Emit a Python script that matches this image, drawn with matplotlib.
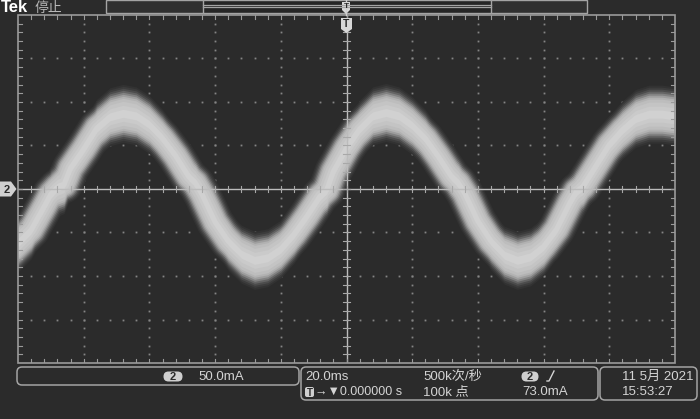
import matplotlib.pyplot as plt
from matplotlib.patches import FancyBboxPatch, Rectangle, Polygon

plt.rcParams['font.family'] = ['Liberation Sans', 'Noto Sans CJK SC', 'DejaVu Sans']

# waveform centre: 20 ms/div, 50 mA/div
t_ms = [-100, -96, -92, -90, -88, -86, -84, -80, -76, -72, -68, -64, -60, -56,
        -52, -48, -46, -44, -40, -36, -32, -28, -24, -20, -16, -12, -8, -6, -4,
        0, 4, 8, 12, 16, 20, 24, 28, 32, 34, 36, 40, 44, 48, 52, 56, 60, 64,
        68, 70, 72, 76, 80, 84, 88, 92, 96, 100]
i_ma = [-62, -47, -20, -6, 2, 5, 24, 46, 70, 83, 87, 84, 74, 58,
        38, 14, 7, -6, -38, -60, -75, -82, -79, -69, -52, -31, -8, -1, 20,
        47, 69, 84, 88, 84, 73, 58, 37, 14, 7, -5, -37, -60, -76, -82, -78, -66, -46,
        -16, -3, 3, 27, 51, 68, 81, 86, 86, 84]

ch_label = '2'
ch_scale = '50.0mA'
time_scale = '20.0ms'
trig_pos = '→▼0.000000 s'
sample_rate = '500k次/秒'
record_len = '100k 点'
trig_level = '73.0mA'
date_txt = '11 5月 2021'
clock_txt = '15:53:27'

BG = '#2b2b2b'
GRID = '#858585'
EDGE = '#a4a4a4'
TXT = '#d4d4d4'
MA_PER_PX = 50 / 43.5

fig = plt.figure(figsize=(7, 4.19), dpi=100, facecolor=BG)
ax = fig.add_axes([18/700, 56/419, 657/700, 348/419])
ax.set_facecolor(BG)
ax.set_xlim(-100, 100)
ax.set_ylim(-200, 200)
for s in ax.spines.values():
    s.set_visible(False)
ax.set_xticks([])
ax.set_yticks([])

# graticule dots
for gx in [-80, -60, -40, -20, 20, 40, 60, 80]:
    ys = [v for v in range(-190, 200, 10)]
    ax.plot([gx]*len(ys), ys, ls='none', marker='s', ms=1.3, color=GRID, mew=0, zorder=1)
for gy in [-150, -100, -50, 50, 100, 150]:
    xs = [v for v in range(-96, 100, 4)]
    ax.plot(xs, [gy]*len(xs), ls='none', marker='s', ms=1.3, color=GRID, mew=0, zorder=1)

# trace: persistence band, vertical spread + stroke so slopes keep some width
glow = [(29, '#323232'), (27, '#3c3c3c'), (25, '#4c4c4c'), (23, '#646464'),
        (21, '#828282'), (19, '#9e9e9e'), (17, '#b2b2b2'), (15, '#bdbdbd'),
        (12, '#c4c4c4'), (8, '#cacaca'), (4, '#d1d1d1')]
for hpx, c in glow:
    h = hpx * MA_PER_PX
    lo = [v - h for v in i_ma]
    hi = [v + h for v in i_ma]
    ax.fill_between(t_ms, lo, hi, color=c, lw=0, zorder=2)
    ax.plot(t_ms, i_ma, color=c, lw=hpx * 1.3 * 0.72, solid_joinstyle='round',
            solid_capstyle='projecting', zorder=2)

# centre cross and border with minor ticks
ax.axhline(0, color='#bcbcbc', lw=1, zorder=4)
ax.axvline(0, color='#bcbcbc', lw=1, zorder=4)
ax.add_patch(Rectangle((-100, -200), 200, 400, fill=False, ec='#9a9a9a', lw=1.2,
                       zorder=5, clip_on=False))
for v in range(-96, 100, 4):
    ax.plot([v, v], [-3.5, 3.5], color='#a8a8a8', lw=0.8, zorder=4)
    ax.plot([v, v], [200, 195], color='#9a9a9a', lw=0.8, zorder=4)
    ax.plot([v, v], [-200, -195], color='#9a9a9a', lw=0.8, zorder=4)
for v in range(-190, 200, 10):
    ax.plot([-1.1, 1.1], [v, v], color='#a8a8a8', lw=0.8, zorder=4)
    ax.plot([-100, -98.8], [v, v], color='#9a9a9a', lw=0.8, zorder=4)
    ax.plot([100, 98.8], [v, v], color='#9a9a9a', lw=0.8, zorder=4)

# screen furniture in pixel coordinates
ov = fig.add_axes([0, 0, 1, 1], facecolor='none')
ov.set_xlim(0, 700)
ov.set_ylim(419, 0)
ov.axis('off')

ov.text(1, 8, 'Tek', color='white', fontsize=12, fontweight='bold', va='center', ha='left')
ov.text(35, 8, '停止', color='#b8b8b8', fontsize=10, va='center', ha='left')

# record view bar
ov.add_patch(Rectangle((106, 0.5), 481, 12.5, fc='#303030', ec=EDGE, lw=1))
ov.add_patch(Rectangle((203, 0.5), 288, 12.5, fc='#262626', ec=EDGE, lw=1))
ov.plot([203, 491], [5, 5], color=EDGE, lw=0.9)
ov.plot([203, 491], [7, 7], color=EDGE, lw=0.9)

# trigger position markers
ov.plot([346, 346], [0, 15], color='#cfcfcf', lw=1)
ov.add_patch(Polygon([(342, 2), (350, 2), (350, 10), (346, 14), (342, 10)], closed=True,
                     fc='#d8d8d8', ec='none'))
ov.text(346, 6.5, 'T', color='#2b2b2b', fontsize=6, fontweight='bold', ha='center', va='center')
ov.add_patch(Polygon([(341, 18), (352, 18), (352, 29), (346.5, 33), (341, 29)], closed=True,
                     fc='#d8d8d8', ec='none'))
ov.text(346.5, 24, 'T', color='#2b2b2b', fontsize=7.5, fontweight='bold', ha='center', va='center')

# channel ground marker
ov.add_patch(Polygon([(0, 181.5), (11, 181.5), (16.5, 189), (11, 196.5), (0, 196.5)],
                     closed=True, fc='#d0d0d0', ec='none'))
ov.text(7, 189.5, ch_label, color='#2b2b2b', fontsize=8, fontweight='bold', ha='center', va='center')

# status boxes
def rbox(x0, y0, x1, y1):
    ov.add_patch(FancyBboxPatch((x0, y0), x1 - x0, y1 - y0,
                                boxstyle='round,pad=0,rounding_size=5',
                                fc='none', ec=EDGE, lw=1.1))

def pill(xc, yc, s, w=19, h=10):
    ov.add_patch(FancyBboxPatch((xc - w/2, yc - h/2), w, h,
                                boxstyle='round,pad=0,rounding_size=5',
                                fc='#cfcfcf', ec='none'))
    ov.text(xc, yc + 0.5, s, color='#2b2b2b', fontsize=8, fontweight='bold',
            ha='center', va='center')

rbox(17, 367, 299, 385)
rbox(301, 367, 598, 400)
rbox(600, 367, 697, 400)

row1, row2 = 376.5, 392
pill(173, row1, ch_label)
ov.text(198, row1, ch_scale, color=TXT, fontsize=9.5, ha='left', va='center')

ov.text(305, row1, time_scale, color=TXT, fontsize=9.5, ha='left', va='center')
ov.add_patch(FancyBboxPatch((305, row2 - 5), 9, 10, boxstyle='round,pad=0,rounding_size=2',
                            fc='#cfcfcf', ec='none'))
ov.text(309.5, row2 + 0.5, 'T', color='#2b2b2b', fontsize=7, fontweight='bold',
        ha='center', va='center')
ov.text(315, row2, trig_pos, color=TXT, fontsize=9, ha='left', va='center',
        family=['Liberation Sans', 'DejaVu Sans'])
ov.text(423, row1, sample_rate, color=TXT, fontsize=9.5, ha='left', va='center')
ov.text(423, row2, record_len, color=TXT, fontsize=9.5, ha='left', va='center')
pill(530, row1, ch_label, w=17)
ov.plot([547, 549, 554], [381, 381, 371], color=TXT, lw=1)
ov.text(522, row2, trig_level, color=TXT, fontsize=9.5, ha='left', va='center')

ov.text(622, row1, date_txt, color=TXT, fontsize=9.5, ha='left', va='center')
ov.text(622, row2, clock_txt, color=TXT, fontsize=9.5, ha='left', va='center')

fig.savefig('out.png', dpi=100, facecolor=BG)
